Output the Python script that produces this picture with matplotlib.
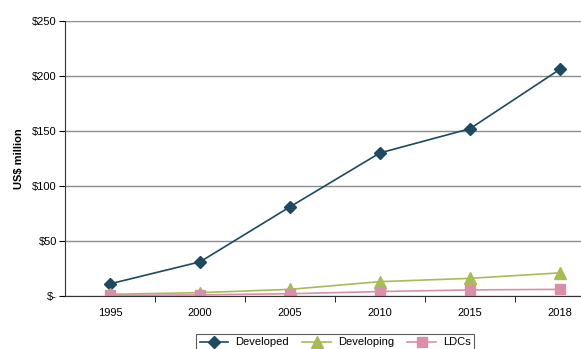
import matplotlib.pyplot as plt
import numpy as np

plt.rcParams["font.family"] = ["Liberation Sans", "DejaVu Sans"]

years = ["1995", "2000", "2005", "2010", "2015", "2018"]
developed = [11, 31, 81, 130, 152, 206]
developing = [1.5, 3, 6, 13, 16, 21]
ldcs = [0.5, 1, 2, 4, 5.5, 6]
y_ticks = [0, 50, 100, 150, 200, 250]
y_labels = ["$-", "$50", "$100", "$150", "$200", "$250"]

fig = plt.figure(figsize=(5.81, 3.49), dpi=100)
ax = fig.add_axes([0.112, 0.152, 0.929, 0.788])

x = np.arange(len(years))
ax.plot(x, developed, color="#1d4a5f", lw=1.2, marker="D", ms=6,
        label="Developed")
ax.plot(x, developing, color="#a8bb55", lw=1.2, marker="^", ms=8,
        label="Developing")
ax.plot(x, ldcs, color="#d98fab", lw=1.2, marker="s", ms=7.5,
        label="LDCs")

ax.set_xlim(-0.5, len(years) - 0.5)
ax.set_ylim(0, 250)
ax.set_yticks(y_ticks)
ax.set_yticklabels(y_labels, fontsize=8)
ax.set_xticks(x)
ax.set_xticklabels(years, fontsize=8)
ax.set_xticks(np.arange(0.5, len(years) - 0.5), minor=True)
ax.tick_params(axis="x", which="major", length=0, pad=9)
ax.tick_params(axis="x", which="minor", length=4, direction="out")
ax.tick_params(axis="y", length=4, direction="out", pad=2)

ax.grid(axis="y", color="#8c8c8c", lw=1)
ax.set_axisbelow(True)
for side in ["top", "right"]:
    ax.spines[side].set_visible(False)
ax.spines["left"].set_color("#333333")
ax.spines["bottom"].set_color("#333333")

ax.set_ylabel("US$ million", fontsize=8, fontweight="bold", labelpad=6)

leg = fig.legend(loc="upper center", bbox_to_anchor=(335 / 581, 1 - 328 / 349),
                 ncol=3, fontsize=8, frameon=True, fancybox=False,
                 edgecolor="#333333", handlelength=2.6, columnspacing=1.2,
                 handletextpad=0.6, borderpad=0.35)
leg.get_frame().set_linewidth(0.8)

fig.savefig("out.png", dpi=100)
